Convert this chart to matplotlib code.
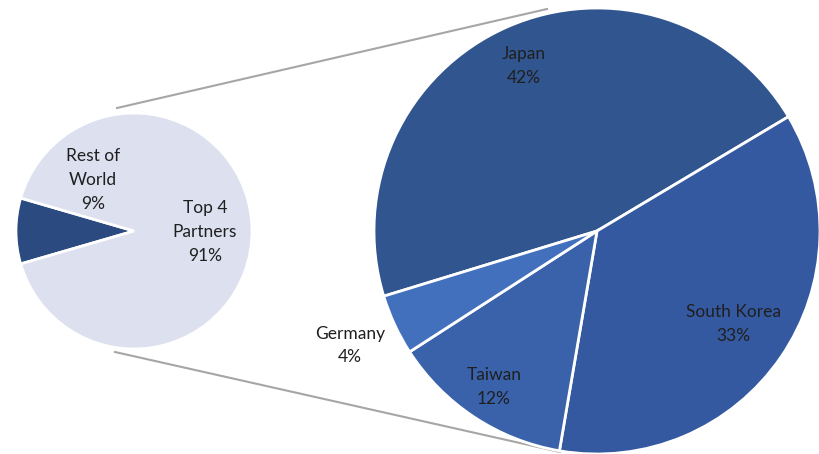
import numpy as np
import matplotlib.pyplot as plt

plt.rcParams['font.family'] = ['Lato', 'DejaVu Sans']

# left pie: share of total
main_labels = ['Rest of\nWorld', 'Top 4\nPartners']
main_values = [9, 91]
# right pie: breakdown of the top 4 partners
top_labels = ['Japan', 'South Korea', 'Taiwan', 'Germany']
top_values = [42, 33, 12, 4]

main_colors = ['#2b4a80', '#dde1ef']
top_colors = ['#31558f', '#3559a0', '#3962aa', '#4270bd']

W, H = 819, 454
fig = plt.figure(figsize=(W / 100, H / 100), dpi=100)
ax = fig.add_axes([0, 0, 1, 1])

# pixel-ish layout (y measured upward)
c1, r1 = (134, H - 231), 118
c2, r2 = (597, H - 231), 223

# connector lines
ax.plot([117, 547], [H - 108, H - 9], color='#a6a6a6', lw=1.5, zorder=0)
ax.plot([115, 560], [H - 352, H - 452], color='#a6a6a6', lw=1.5, zorder=0)

start1 = 180 - main_values[0] / sum(main_values) * 360 / 2
ax.pie(main_values, colors=main_colors, startangle=start1, center=c1,
       radius=r1, explode=[0.035, 0],
       wedgeprops=dict(edgecolor='white', linewidth=2))

w2, _ = ax.pie(top_values, colors=top_colors, startangle=197,
               counterclock=False, center=c2, radius=r2,
               wedgeprops=dict(edgecolor='white', linewidth=2))

tot = sum(main_values)
main_pos = [(93, H - 180), (205, H - 232)]
for lab, v, (x, y) in zip(main_labels, main_values, main_pos):
    ax.text(x, y, f'{lab}\n{round(v / tot * 100)}%', ha='center',
            va='center', fontsize=12.5, color='#1f1f1f', linespacing=1.6)

# label distances as fraction of radius
dists = [0.81, 0.74, 0.84, 1.22]
for w, lab, v, d in zip(w2, top_labels, top_values, dists):
    ang = np.deg2rad((w.theta1 + w.theta2) / 2)
    x = c2[0] + d * r2 * np.cos(ang)
    y = c2[1] + d * r2 * np.sin(ang)
    ax.text(x, y, f'{lab}\n{v}%', ha='center', va='center', fontsize=12.5,
            color='#1f1f1f', linespacing=1.6)

ax.set_xlim(0, W)
ax.set_ylim(0, H)
ax.set_aspect('equal')
ax.axis('off')

fig.savefig('out.png', dpi=100)
